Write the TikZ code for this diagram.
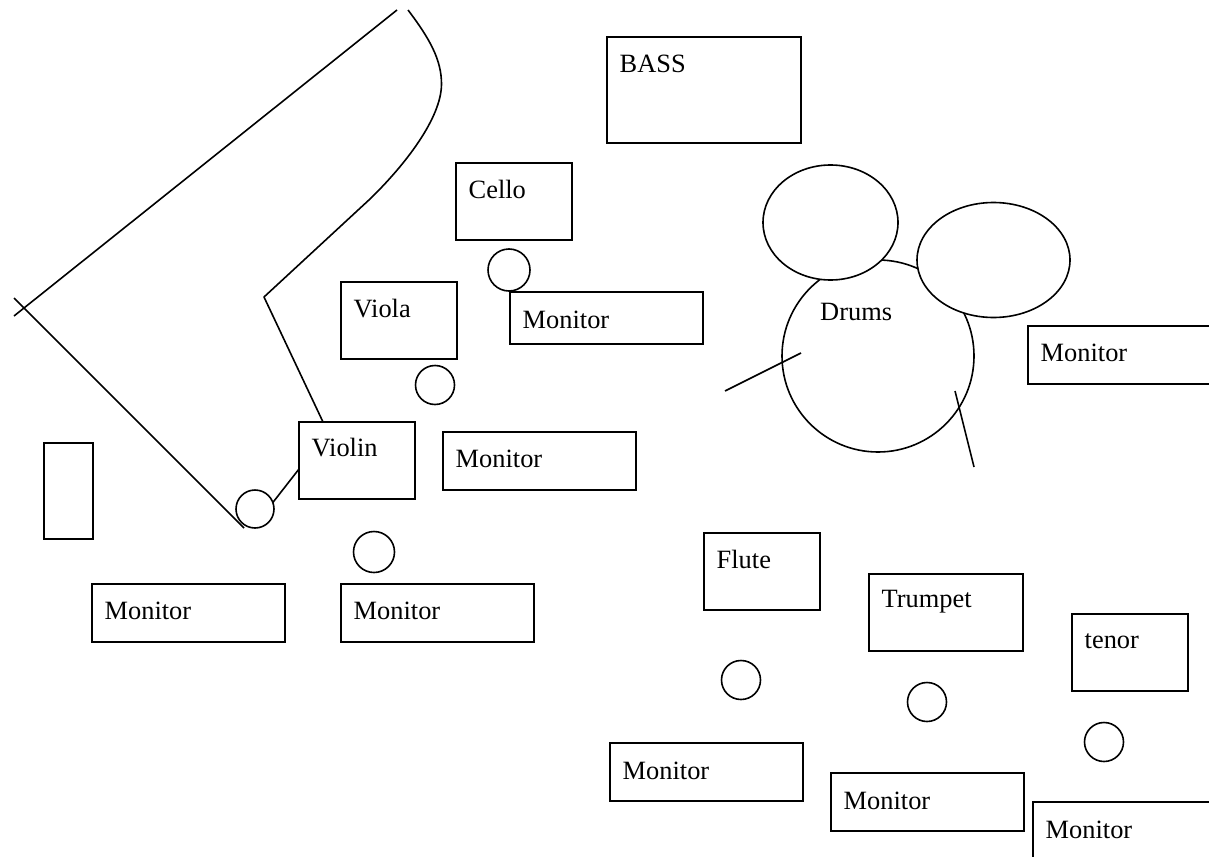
\documentclass[tikz,border=0pt]{standalone}
\usepackage{fontspec}
\usetikzlibrary{shapes.geometric}
\setmainfont{Liberation Serif}
\tikzset{
  px/.style={x=1pt,y=-1pt},
  box/.style={draw=black,line width=1.5pt,outer sep=0pt,inner sep=0pt,anchor=north west,rectangle},
  lab/.style={anchor=base west,inner sep=0pt,font=\fontsize{26.4}{30}\selectfont},
  ln/.style={draw=black,line width=1.6pt},
  circ/.style={draw=black,line width=1.6pt,outer sep=0pt,circle,inner sep=0pt},
  oval/.style={draw=black,line width=1.6pt,outer sep=0pt,fill=white,ellipse,inner sep=0pt},
}
\newcommand{\bx}[7]{%
  \node[box,minimum width=#4pt,minimum height=#5pt] (#1) at (#2,#3) {};
  \node[lab] (#1t) at (#2+12.5,#3+#7) {#6};
}
\newcommand{\cc}[4]{\node[circ,minimum size=#4pt] (#1) at (#2,#3) {};}
\begin{document}
\begin{tikzpicture}[px]
\useasboundingbox (0,0) rectangle (1209,856);
\bx{bass}{607}{37}{194}{106}{BASS}{36}
\bx{cello}{456}{163}{116}{77}{Cello}{35}
\bx{viola}{341}{282}{116}{77}{Viola}{35.5}
\bx{violin}{299}{422}{116}{77}{Violin}{34}
\bx{flute}{704}{533}{116}{77}{Flute}{35.5}
\bx{trumpet}{869}{574}{154}{77}{Trumpet}{33}
\bx{tenor}{1072}{614}{116}{77}{tenor}{34}
\bx{m1}{510}{292}{193}{52}{Monitor}{36}
\bx{m2}{443}{432}{193}{58}{Monitor}{35}
\bx{m3}{92}{584}{193}{58}{Monitor}{35}
\bx{m4}{341}{584}{193}{58}{Monitor}{35}
\bx{m5}{610}{743}{193}{58}{Monitor}{36}
\bx{m6}{831}{773}{193}{58}{Monitor}{36}
\bx{m7}{1033}{802}{193}{58}{Monitor}{36}
\bx{m8}{1028}{326}{193}{58}{Monitor}{35}
\node[box,minimum width=49pt,minimum height=96pt] (stand) at (44,443) {};
\cc{c1}{509}{270}{42}
\cc{c2}{435}{385}{39}
\cc{c3}{255}{509}{38}
\cc{c4}{374}{552}{41}
\cc{c5}{741}{680}{39}
\cc{c6}{927}{702}{39}
\cc{c7}{1104}{742}{39}
\node[circ,minimum size=192pt] (drum) at (878,356) {};
\node[lab] (drumt) at (820,320) {Drums};
\node[oval,minimum width=135pt,minimum height=115pt] (d1) at (830.5,222.5) {};
\node[oval,minimum width=153pt,minimum height=115pt] (d2) at (993.5,260) {};
\coordinate (s1a) at (725,391); \coordinate (s1b) at (801,353);
\coordinate (s2a) at (955,391); \coordinate (s2b) at (974,467);
\draw[ln] (s1a) -- (s1b);
\draw[ln] (s2a) -- (s2b);
\coordinate (p0) at (244,528); \coordinate (p1) at (14,298);
\coordinate (p2) at (14,316); \coordinate (p3) at (397,10);
\coordinate (p4) at (408,10); \coordinate (p5) at (264,297); \coordinate (p6) at (323,422);
\coordinate (vl) at (299,469);
\draw[ln] (p0) -- (p1);
\draw[ln] (p2) -- (p3);
\draw[ln,line join=round] (p4) .. controls (430,39) and (441.5,60) .. (441.5,84) .. controls (441.5,118) and (405,165) .. (370,199) -- (p5) -- (p6);
\draw[ln] (c3.20) -- (vl);
\end{tikzpicture}
\end{document}
